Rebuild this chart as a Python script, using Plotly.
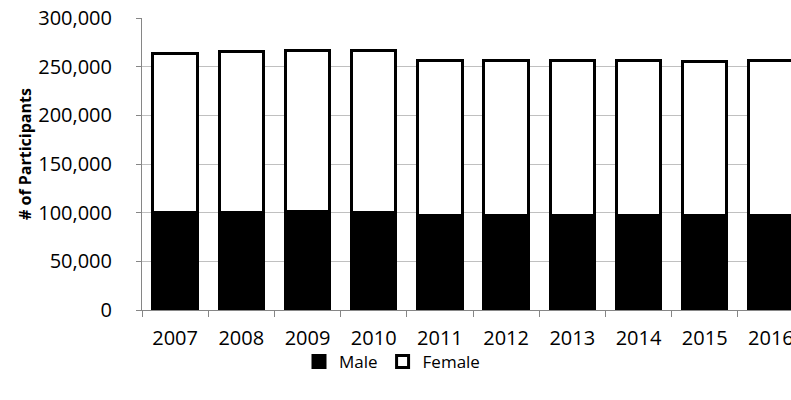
import plotly.graph_objects as go

years = ["2007", "2008", "2009", "2010", "2011", "2012", "2013", "2014", "2015", "2016"]
male = [100200, 100500, 101000, 100700, 97100, 97100, 97300, 97300, 97000, 97100]
female = [163000, 164700, 165900, 166100, 159700, 159500, 159400, 159100, 157900, 159300]
y_ticks = [0, 50000, 100000, 150000, 200000, 250000, 300000]
title_text = "Number of Participants by Gender by Year"
y_title = "# of Participants"

W, H = 791, 400
L, T = 142, 18
PLOT_BOTTOM = 310
B = H - PLOT_BOTTOM
FONT = "Open Sans, Noto Sans, DejaVu Sans, sans-serif"

fig = go.Figure()
fig.add_trace(go.Bar(
    x=years, y=male, name="Male",
    marker=dict(color="#000000", line=dict(color="#000000", width=3)),
))
fig.add_trace(go.Bar(
    x=years, y=female, name="Female",
    marker=dict(color="#ffffff", line=dict(color="#000000", width=3)),
))

plot_w = W - L
plot_h = H - T - B
cat_px = 66.2
span = plot_w / cat_px

fig.update_layout(
    width=W, height=H,
    margin=dict(l=L, r=0, t=T, b=B, pad=0, autoexpand=False),
    barmode="stack", bargap=0.33,
    plot_bgcolor="#ffffff", paper_bgcolor="#ffffff",
    font=dict(family=FONT, color="#000000", size=20),
    hovermode=False,
    showlegend=True,
    legend=dict(
        orientation="h", xref="container", yref="container",
        x=392 / W, xanchor="center", y=1 - 362 / H, yanchor="middle",
        font=dict(size=17, family=FONT), traceorder="normal",
        itemwidth=30, bgcolor="rgba(0,0,0,0)",
    ),
    xaxis=dict(
        type="category", range=[-0.5, -0.5 + span],
        showline=True, linecolor="#868686", linewidth=1,
        ticks="outside", ticklen=6, tickcolor="#868686", tickwidth=1,
        tickson="boundaries", showgrid=False, automargin=False,
        tickfont=dict(size=20, family=FONT), ticklabelstandoff=10,
    ),
    yaxis=dict(
        range=[0, 300000 * 1.0002], tickvals=y_ticks, tickformat=",d",
        showline=True, linecolor="#868686", linewidth=1,
        ticks="outside", ticklen=5, tickcolor="#868686", tickwidth=1,
        showgrid=True, gridcolor="#c0c0c0", gridwidth=1,
        zeroline=False, automargin=False,
        tickfont=dict(size=20, family=FONT), ticklabelstandoff=20,
        ticklabeloverflow="allow",
    ),
    annotations=[
        dict(
            text="<b>" + y_title + "</b>", textangle=-90,
            xref="paper", yref="paper",
            x=(25 - L) / plot_w, y=(PLOT_BOTTOM - 154) / plot_h,
            xanchor="center", yanchor="middle", showarrow=False,
            font=dict(size=16, family=FONT, color="#000000"),
        ),
        dict(
            text="<b>" + title_text + "</b>",
            xref="paper", yref="paper",
            x=(470 - L) / plot_w, y=1, yshift=T - 3,
            xanchor="center", yanchor="bottom", showarrow=False,
            font=dict(size=18, family=FONT, color="#000000"),
        ),
    ],
)

fig.write_html(
    "out.html",
    config={"displayModeBar": False},
    post_script="document.body.style.margin='0';document.body.style.overflow='hidden';",
)
